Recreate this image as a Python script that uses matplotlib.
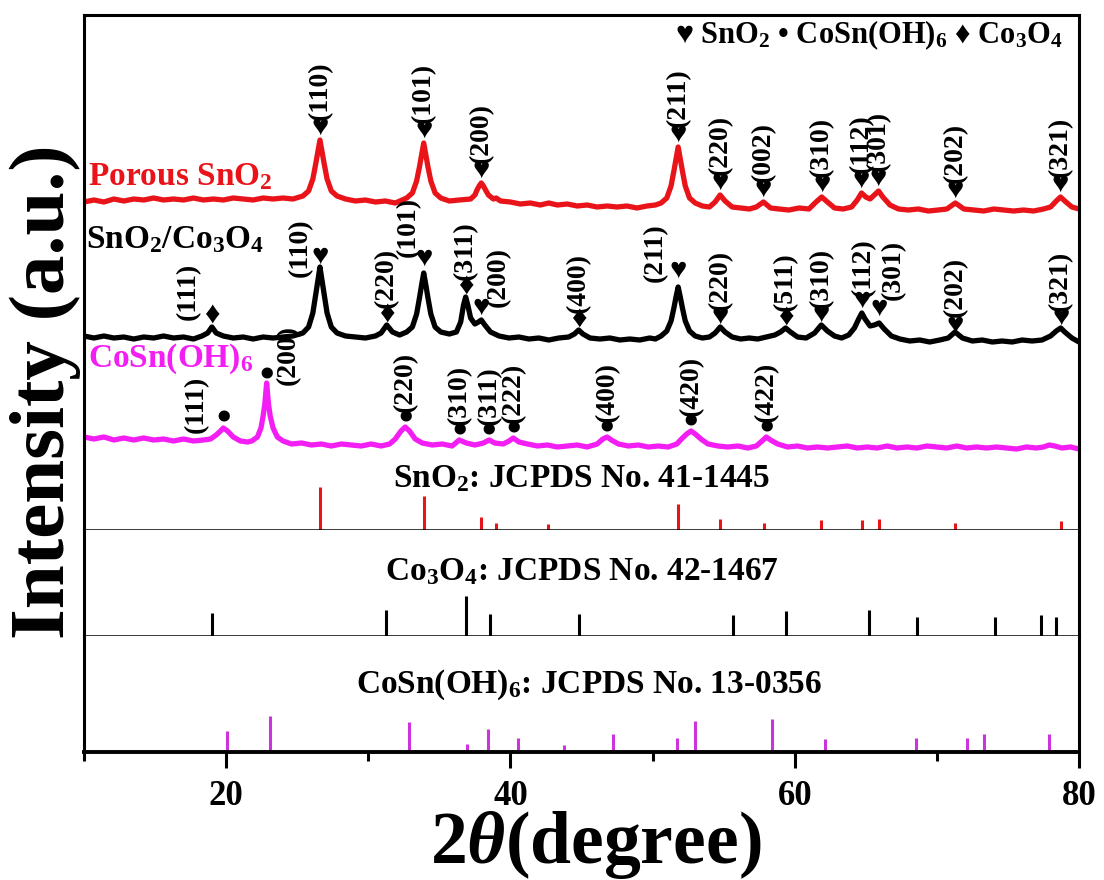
import numpy as np
import matplotlib
matplotlib.use('Agg')
import matplotlib.pyplot as plt
from matplotlib.ticker import FixedLocator

plt.rcParams['font.family'] = ['Liberation Serif', 'DejaVu Sans']
plt.rcParams['font.weight'] = 'bold'
plt.rcParams['mathtext.fontset'] = 'custom'
plt.rcParams['mathtext.rm'] = 'Liberation Serif:bold'
plt.rcParams['mathtext.bf'] = 'Liberation Serif:bold'
plt.rcParams['mathtext.it'] = 'Liberation Serif:italic'
plt.rcParams['mathtext.default'] = 'rm'

RED = '#e8141a'
MAG = '#f31ef3'
STICK_MAG = '#cc33dd'

# ---------------- measured patterns (2theta, intensity a.u.) ----------------
sno2_x = [10.0, 10.7, 11.4, 12.1, 12.8, 13.5, 14.2, 14.9, 15.6, 16.3, 17.0, 17.7, 18.4, 19.1,
          19.8, 20.5, 21.2, 21.9, 22.6, 23.3, 24.0, 24.7, 25.4, 25.8, 26.1, 26.3, 26.45, 26.6,
          26.75, 26.9, 27.1, 27.4, 27.8, 28.4, 29.1, 29.8, 30.5, 31.2, 31.9, 32.7, 33.1, 33.4,
          33.6, 33.75, 33.9, 34.05, 34.2, 34.4, 34.7, 35.1, 35.7, 36.4, 37.2, 37.5, 37.65, 37.8,
          37.95, 38.1, 38.25, 38.45, 38.8, 39.0, 39.3, 40.0, 40.7, 41.4, 42.1, 42.7, 43.3, 44.0,
          44.7, 45.4, 46.1, 46.8, 47.5, 48.2, 48.9, 49.6, 50.2, 50.6, 51.0, 51.3, 51.5, 51.65,
          51.8, 51.95, 52.1, 52.3, 52.6, 53.0, 53.5, 54.0, 54.4, 54.75, 55.1, 55.6, 56.2, 56.8,
          57.3, 57.8, 58.3, 58.9, 59.6, 60.3, 61.0, 61.5, 61.9, 62.3, 62.8, 63.4, 64.0, 64.4,
          64.7, 65.0, 65.3, 65.6, 65.9, 66.2, 66.7, 67.3, 68.0, 68.7, 69.4, 70.1, 70.7, 71.3,
          71.9, 72.6, 73.3, 74.0, 74.7, 75.4, 76.1, 76.8, 77.5, 78.0, 78.4, 78.7, 79.0, 79.5,
          80.0]
sno2_y = [328, 330, 328, 331, 329, 331, 330, 332, 330, 331, 330, 332, 330, 331,
          330, 332, 331, 330, 332, 331, 332, 331, 334, 339, 351, 366, 378, 390,
          378, 366, 351, 339, 334, 331, 329, 330, 328, 329, 327, 332, 337, 349,
          363, 375, 387, 375, 363, 349, 337, 332, 329, 330, 331, 335, 340, 344,
          347, 344, 340, 335, 331, 332, 329, 328, 326, 327, 325, 327, 325, 326,
          324, 325, 323, 324, 323, 324, 322, 324, 325, 327, 332, 344, 359, 371,
          383, 371, 359, 344, 332, 327, 324, 323, 328, 335, 329, 323, 322, 321,
          323, 328, 322, 321, 320, 322, 321, 328, 333, 328, 322, 321, 323, 330,
          337, 333, 331, 335, 339, 333, 325, 321, 320, 321, 319, 320, 321, 327,
          321, 320, 319, 321, 320, 319, 320, 319, 321, 323, 329, 333, 329, 323,
          321]

comp_x = [10.0, 10.7, 11.4, 12.1, 12.8, 13.5, 14.2, 14.9, 15.6, 16.3, 17.0, 17.7, 18.3, 18.7,
          19.0, 19.3, 19.8, 20.5, 21.2, 21.9, 22.6, 23.3, 24.0, 24.7, 25.4, 25.8, 26.1, 26.3,
          26.45, 26.6, 26.75, 26.9, 27.1, 27.4, 27.8, 28.4, 29.1, 29.8, 30.5, 30.9, 31.3, 31.7,
          32.2, 32.7, 33.1, 33.4, 33.6, 33.75, 33.9, 34.05, 34.2, 34.4, 34.7, 35.1, 35.7, 36.2,
          36.5, 36.7, 36.85, 37.0, 37.2, 37.5, 37.75, 37.95, 38.2, 38.6, 39.2, 39.9, 40.6, 41.3,
          42.0, 42.7, 43.4, 44.1, 44.5, 44.8, 45.1, 45.6, 46.3, 47.0, 47.7, 48.4, 49.1, 49.8,
          50.2, 50.6, 51.0, 51.3, 51.5, 51.65, 51.8, 51.95, 52.1, 52.3, 52.6, 53.0, 53.5, 54.0,
          54.4, 54.76, 55.1, 55.6, 56.2, 56.8, 57.4, 58.0, 58.6, 59.0, 59.36, 59.7, 60.2, 60.8,
          61.4, 61.87, 62.3, 62.8, 63.3, 63.8, 64.2, 64.5, 64.72, 64.95, 65.3, 65.6, 65.94, 66.3,
          66.8, 67.4, 68.1, 68.8, 69.5, 70.2, 70.8, 71.28, 71.8, 72.5, 73.2, 73.9, 74.6, 75.3,
          76.0, 76.7, 77.4, 78.0, 78.4, 78.71, 79.0, 79.5, 80.0]
comp_y = [194, 192, 194, 192, 193, 191, 193, 192, 194, 192, 193, 191, 194, 197,
          203, 197, 194, 192, 193, 191, 193, 192, 193, 194, 197, 203, 217, 235,
          249, 263, 249, 235, 217, 203, 197, 194, 193, 192, 194, 197, 205, 198,
          195, 198, 203, 216, 232, 245, 257, 245, 232, 216, 203, 198, 196, 198,
          208, 225, 233, 225, 212, 206, 208, 210, 205, 198, 194, 192, 193, 191,
          192, 190, 192, 193, 196, 200, 196, 192, 191, 192, 190, 191, 190, 192,
          191, 194, 199, 209, 222, 233, 243, 233, 222, 209, 199, 194, 192, 193,
          197, 203, 198, 193, 191, 192, 191, 193, 195, 198, 202, 198, 193, 192,
          197, 205, 199, 194, 192, 195, 202, 211, 217, 211, 204, 205, 207, 201,
          194, 191, 189, 190, 188, 190, 192, 198, 192, 189, 190, 188, 189, 188,
          190, 189, 190, 194, 199, 202, 198, 192, 188]

cosn_x = [10.0, 10.7, 11.4, 12.1, 12.8, 13.5, 14.2, 14.9, 15.6, 16.3, 17.0, 17.7, 18.4, 18.9,
          19.3, 19.6, 19.8, 20.1, 20.5, 21.0, 21.5, 21.8, 22.2, 22.45, 22.6, 22.72, 22.85, 22.98,
          23.1, 23.3, 23.6, 24.0, 24.6, 25.3, 26.0, 26.7, 27.4, 28.1, 28.8, 29.5, 30.2, 30.9,
          31.5, 31.9, 32.3, 32.6, 32.9, 33.3, 33.8, 34.5, 35.2, 35.9, 36.4, 36.9, 37.5, 38.1,
          38.5, 38.9, 39.5, 39.9, 40.2, 40.6, 41.2, 41.9, 42.6, 43.3, 44.0, 44.7, 45.4, 46.1,
          46.5, 46.8, 47.1, 47.6, 48.3, 49.0, 49.7, 50.4, 51.1, 51.7, 52.1, 52.4, 52.7, 53.0,
          53.4, 53.9, 54.6, 55.3, 56.0, 56.7, 57.3, 57.7, 58.0, 58.3, 58.8, 59.5, 60.2, 60.9,
          61.6, 62.3, 63.0, 63.7, 64.4, 65.1, 65.8, 66.5, 67.2, 67.9, 68.6, 69.3, 70.0, 70.7,
          71.4, 72.1, 72.8, 73.5, 74.2, 74.9, 75.6, 76.3, 77.0, 77.5, 77.9, 78.3, 78.8, 79.4,
          80.0]
cosn_y = [93, 91, 93, 90, 92, 90, 92, 90, 91, 89, 91, 89, 90, 91,
          95, 99, 102, 99, 93, 89, 88, 89, 93, 102, 114, 126, 147, 126,
          114, 102, 93, 89, 86, 87, 85, 86, 84, 86, 85, 84, 86, 84,
          86, 91, 99, 103, 99, 91, 87, 85, 86, 84, 90, 87, 85, 87,
          90, 87, 86, 89, 92, 88, 86, 84, 85, 83, 84, 85, 83, 86,
          91, 93, 90, 86, 84, 85, 83, 84, 83, 86, 92, 96, 99, 96,
          91, 86, 84, 83, 84, 82, 84, 89, 93, 90, 86, 83, 84, 82,
          83, 82, 83, 84, 82, 83, 82, 84, 82, 83, 82, 84, 83, 82,
          84, 82, 83, 82, 83, 82, 81, 83, 82, 83, 85, 84, 82, 83,
          81]

# ---------------- peak assignments ----------------
sno2_peaks = [26.6, 33.9, 37.95, 51.8, 54.75, 57.8, 61.9, 64.7, 65.9, 71.3, 78.7]
sno2_hkl = ['(110)', '(101)', '(200)', '(211)', '(220)', '(002)', '(310)', '(112)', '(301)',
            '(202)', '(321)']

comp_peaks = [19.0, 26.6, 31.3, 33.9, 36.85, 37.95, 44.8, 51.8, 54.76, 59.36, 61.87, 64.72,
              65.94, 71.28, 78.71]
comp_hkl = ['(111)', '(110)', '(220)', '(101)', '(311)', '(200)', '(400)', '(211)', '(220)',
            '(511)', '(310)', '(112)', '(301)', '(202)', '(321)']
comp_phase = ['co', 'sn', 'co', 'sn', 'co', 'sn', 'co', 'sn', 'sn', 'co', 'sn', 'sn', 'sn',
              'sn', 'sn']

cosn_peaks = [19.8, 22.85, 32.6, 36.4, 38.5, 40.2, 46.8, 52.7, 58.0]
cosn_hkl = ['(111)', '(200)', '(220)', '(310)', '(311)', '(222)', '(400)', '(420)', '(422)']

# ---------------- JCPDS reference lines ----------------
ref_sno2_x = [26.61, 33.89, 37.95, 38.97, 42.64, 51.78, 54.76, 57.82, 61.87, 64.72, 65.94,
              71.28, 78.71]
ref_sno2_h = [43, 34, 13, 7, 6, 26, 11, 7, 10, 10, 11, 7, 9]

ref_co3o4_x = [19.0, 31.27, 36.85, 38.54, 44.81, 55.66, 59.36, 65.24, 68.63, 74.12, 77.33, 78.40]
ref_co3o4_h = [23, 26, 40, 22, 22, 21, 25, 26, 19, 19, 21, 19]

ref_cosn_x = [20.06, 23.1, 32.87, 36.97, 38.4, 40.5, 43.8, 47.2, 51.7, 53.0, 58.4, 62.1, 68.5,
              72.1, 73.3, 77.9]
ref_cosn_h = [21, 36, 30, 8, 23, 14, 7, 18, 14, 31, 33, 13, 14, 14, 18, 18]

# glyph, font size, vertical nudge in pixels
GLYPH = {'sn': ('\u2665', 21, 0), 'co': ('\u2666', 22, 0), 'oh': ('\u2022', 30, -3)}


def peak_top(xs, ys, x0):
    xs = np.asarray(xs)
    ys = np.asarray(ys)
    near = np.abs(xs - x0) <= 0.3
    return ys[near].max()


def label_peaks(ax, xs, ys, peaks, names, phases, shifts=None, mark_off=12, text_off=20):
    # glyph just above each peak, Miller index rotated above (or beside) the glyph
    shifts = shifts or {}
    for i, (p, name) in enumerate(zip(peaks, names)):
        top = peak_top(xs, ys, p)
        dx, dy, dm = shifts.get(i, (0, text_off, mark_off))
        g, gsize, gnudge = GLYPH[phases[i]]
        ax.annotate(g, (p, top), xytext=(0, dm + gnudge), textcoords='offset pixels',
                    ha='center', va='center', fontsize=gsize, color='black')
        ax.annotate(name, (p, top), xytext=(dx, dy), textcoords='offset pixels',
                    rotation=90, ha='center', va='bottom', fontsize=20,
                    fontweight='bold', color='black')


fig = plt.figure(figsize=(11.04, 8.8), dpi=100)
left, width = 84 / 1104, 995 / 1104
ax1 = fig.add_axes([left, 1 - 530 / 880, width, 515 / 880])
ax2 = fig.add_axes([left, 1 - 636 / 880, width, 106 / 880])
ax3 = fig.add_axes([left, 1 - 752 / 880, width, 116 / 880])

for ax in (ax1, ax2, ax3):
    ax.set_xlim(10, 80)
    for s in ax.spines.values():
        s.set_linewidth(2.2)
    ax.tick_params(left=False, labelleft=False, bottom=False, labelbottom=False)
ax1.set_ylim(0, 515)
ax2.set_ylim(0, 106)
ax3.set_ylim(0, 116)
ax1.spines['bottom'].set_linewidth(1.8)
ax2.spines['top'].set_visible(False)
ax2.spines['bottom'].set_linewidth(1.8)
ax3.spines['top'].set_visible(False)
ax3.spines['bottom'].set_linewidth(2.8)

# patterns
for xs, ys, c in ((sno2_x, sno2_y, RED), (comp_x, comp_y, 'black'), (cosn_x, cosn_y, MAG)):
    ax1.plot(xs, ys, color=c, lw=3.8, solid_joinstyle='round')

label_peaks(ax1, sno2_x, sno2_y, sno2_peaks, sno2_hkl, ['sn'] * len(sno2_peaks),
            mark_off=13, text_off=20)

comp_shift = {0: (-24, 7, 12), 1: (-20, -10, 11), 3: (-15, 16, 15), 5: (17, 13, 13),
              7: (-23, 5, 17), 11: (2, 16, 13), 12: (14, 23, 15), 13: (0, 15, 7)}
label_peaks(ax1, comp_x, comp_y, comp_peaks, comp_hkl, comp_phase,
            shifts=comp_shift, mark_off=11, text_off=17)

cosn_shift = {0: (-27, -5, 11), 1: (22, -2, 9)}
label_peaks(ax1, cosn_x, cosn_y, cosn_peaks, cosn_hkl, ['oh'] * len(cosn_peaks),
            shifts=cosn_shift, mark_off=10, text_off=15)

# sample names
ax1.text(0.004, 0.670, 'Porous SnO$_2$', transform=ax1.transAxes, color=RED,
         fontsize=24, fontweight='bold', va='baseline')
ax1.text(0.002, 0.5476, 'SnO$_2$/Co$_3$O$_4$', transform=ax1.transAxes, color='black',
         fontsize=24, fontweight='bold', va='baseline')
ax1.text(0.004, 0.3165, 'CoSn(OH)$_6$', transform=ax1.transAxes, color=MAG,
         fontsize=24, fontweight='bold', va='baseline')

# phase key
ax1.text(0.984, 0.9456, '\u2665 SnO$_2$ \u2022 CoSn(OH)$_6$ \u2666 Co$_3$O$_4$',
         transform=ax1.transAxes, fontsize=22, fontweight='bold', ha='right', va='baseline')

# reference sticks
ax1.vlines(ref_sno2_x, 0, ref_sno2_h, color=RED, lw=2.2)
ax2.vlines(ref_co3o4_x, 0, ref_co3o4_h, color='black', lw=2.2)
ax3.vlines(ref_cosn_x, 0, ref_cosn_h, color=STICK_MAG, lw=2.2)

ax1.text(45.0, 51, 'SnO$_2$: JCPDS No. 41-1445', fontsize=24, fontweight='bold',
         ha='center', va='center')
ax2.text(45.0, 64, 'Co$_3$O$_4$: JCPDS No. 42-1467', fontsize=24, fontweight='bold',
         ha='center', va='center')
ax3.text(45.5, 67, 'CoSn(OH)$_6$: JCPDS No. 13-0356', fontsize=24, fontweight='bold',
         ha='center', va='center')

# bottom axis
ax3.tick_params(bottom=True, labelbottom=True, direction='out', length=11.5, width=2.2,
                labelsize=25, pad=9)
ax3.tick_params(which='minor', bottom=True, direction='out', length=6.5, width=2.2)
ax3.xaxis.set_major_locator(FixedLocator([20, 40, 60, 80]))
ax3.xaxis.set_minor_locator(FixedLocator([10, 30, 50, 70]))
for lab in ax3.get_xticklabels():
    lab.set_fontweight('bold')

fig.text(596 / 1104, 1 - 845 / 880, '2$\\mathit{\\theta}$(degree)', fontsize=53,
         fontweight='bold', ha='center', va='center')
fig.text(45 / 1104, 1 - 392 / 880, 'Intensity (a.u.)', fontsize=57, fontweight='bold',
         rotation=90, ha='center', va='center')

fig.savefig('out.png', dpi=100)
